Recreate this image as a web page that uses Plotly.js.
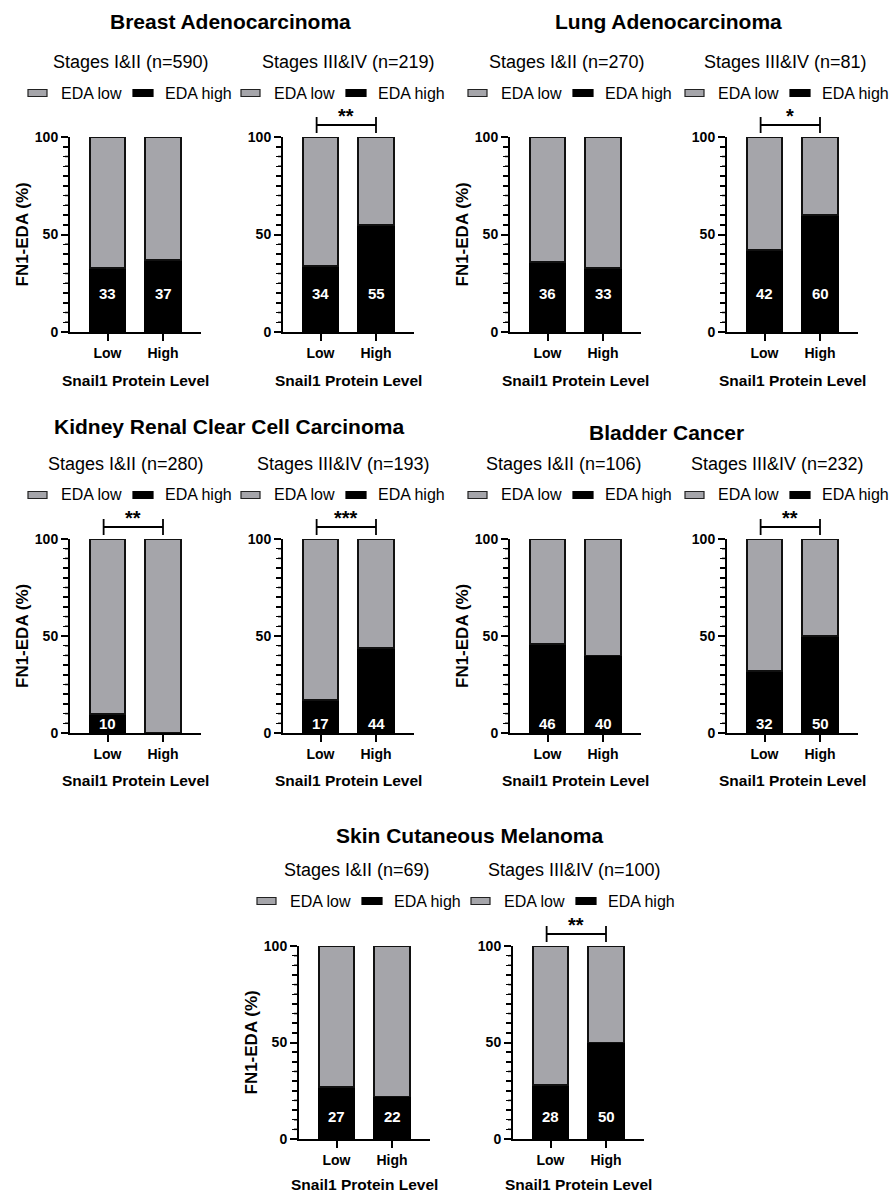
<!DOCTYPE html>
<html>
<head>
<meta charset="utf-8">
<script src="https://cdn.plot.ly/plotly-3.0.1.min.js"></script>
<style>html,body{margin:0;padding:0;background:#fff;}#chart{width:891px;height:1193px;}</style>
</head>
<body>
<div id="chart"></div>
<script>
// ---------------- data ----------------
const categories = ['Low', 'High'];
const seriesNames = ['EDA low', 'EDA high'];
const cancerTitles = ['Breast Adenocarcinoma', 'Lung Adenocarcinoma', 'Kidney Renal Clear Cell Carcinoma', 'Bladder Cancer', 'Skin Cutaneous Melanoma'];
const stageLabels = ['Stages I&II (n=590)', 'Stages III&IV (n=219)',
                     'Stages I&II (n=270)', 'Stages III&IV (n=81)',
                     'Stages I&II (n=280)', 'Stages III&IV (n=193)',
                     'Stages I&II (n=106)', 'Stages III&IV (n=232)',
                     'Stages I&II (n=69)',  'Stages III&IV (n=100)'];
const edaHigh = [[33, 37], [34, 55], [36, 33], [42, 60], [10, 0], [17, 44], [46, 40], [32, 50], [27, 22], [28, 50]];
const edaLow  = [[67, 63], [66, 45], [64, 67], [58, 40], [90, 100], [83, 56], [54, 60], [68, 50], [73, 78], [72, 50]];
const significance = ['', '**', '', '*', '**', '***', '', '**', '', '**'];
const yTickVals = [0, 50, 100];
const yMinorTickVals = [5, 10, 15, 20, 25, 30, 35, 40, 45, 55, 60, 65, 70, 75, 80, 85, 90, 95];
const yAxisTitle = 'FN1-EDA (%)';
const xAxisTitle = 'Snail1 Protein Level';

// ---------------- layout constants (pixels) ----------------
const W = 891, H = 1193;
const px = x => x / W;
const py = y => 1 - y / H;
const axisLeft   = [70, 283, 510, 727, 70, 283, 510, 727, 299, 513];
const axisTop    = [137, 137, 137, 137, 539, 539, 539, 539, 946, 946];
const axisBottom = [332, 332, 332, 332, 733, 733, 733, 733, 1139, 1139];
const axisWidth = 131;
const catStep = 55.5, firstOffset = 37.5;
const xRange = [-firstOffset / catStep, (axisWidth - firstOffset) / catStep];
const yRange = [0, 100];
const barWidth = 0.64;
const labelLevel = [19.5, 19.5, 19.5, 19.5, 5, 5, 5, 5, 11.5, 11.5];
const xTitleShift = [-48, -48, -48, -48, -47, -47, -47, -47, -45, -45];
const titlePos = [[230, 22], [668, 22], [229, 426], [666, 432], [470, 835]];
const subPos = [[131, 62], [348, 62], [567, 62], [785, 62], [126, 464], [343, 464], [564, 464], [777, 464], [357, 870], [574, 870]];
const legendY = [93, 93, 93, 93, 495, 495, 495, 495, 901, 901];

const GRAY = '#a5a5aa';
const FONT = 'Liberation Sans, Arial, sans-serif';

const traces = [];
const layout = {
  width: W, height: H,
  margin: {l: 0, r: 0, t: 0, b: 0},
  paper_bgcolor: '#fff', plot_bgcolor: 'rgba(0,0,0,0)',
  barmode: 'stack',
  showlegend: false,
  font: {family: FONT, color: '#000'},
  annotations: [], shapes: []
};

for (let i = 0; i < 10; i++) {
  const n = i === 0 ? '' : String(i + 1);
  const xa = 'x' + n, ya = 'y' + n;
  traces.push({
    type: 'bar', x: categories, y: edaHigh[i], name: seriesNames[1],
    xaxis: xa, yaxis: ya, width: barWidth, cliponaxis: false,
    marker: {color: '#000', line: {color: '#000', width: 1.5}}, hoverinfo: 'y+name'
  });
  traces.push({
    type: 'bar', x: categories, y: edaLow[i], name: seriesNames[0],
    xaxis: xa, yaxis: ya, width: barWidth, cliponaxis: false,
    marker: {color: GRAY, line: {color: '#111', width: 1.8}}, hoverinfo: 'y+name'
  });

  layout['xaxis' + n] = {
    domain: [px(axisLeft[i]), px(axisLeft[i] + axisWidth)],
    anchor: ya, type: 'category', range: xRange, fixedrange: true,
    showline: true, linecolor: '#000', linewidth: 2,
    ticks: 'outside', ticklen: 7, tickwidth: 2, tickcolor: '#000',
    showgrid: false, zeroline: false,
    tickfont: {family: FONT, size: 14, color: '#000', weight: 'bold'}
  };
  layout['yaxis' + n] = {
    domain: [py(axisBottom[i]), py(axisTop[i])],
    anchor: xa, range: yRange, fixedrange: true,
    tickmode: 'array', tickvals: yTickVals,
    showline: true, linecolor: '#000', linewidth: 2,
    ticks: 'outside', ticklen: 7, tickwidth: 2, tickcolor: '#000',
    minor: {ticks: 'outside', ticklen: 5, tickwidth: 1.5, tickcolor: '#000', dtick: 5},
    showgrid: false, zeroline: false,
    tickfont: {family: FONT, size: 14, color: '#000', weight: 'bold'}
  };

  // minor ticks also as lines, mapped from tick value onto the axis domain
  const L = axisLeft[i];
  const d0 = py(axisBottom[i]), d1 = py(axisTop[i]);
  yMinorTickVals.forEach(v => {
    const yy = d0 + (v - yRange[0]) / (yRange[1] - yRange[0]) * (d1 - d0);
    layout.shapes.push({type: 'line', layer: 'above', xref: 'paper', yref: 'paper',
      x0: px(L - 5), x1: px(L), y0: yy, y1: yy, line: {color: '#000', width: 1.5}});
  });

  // value labels inside black segments
  categories.forEach((c, k) => {
    if (edaHigh[i][k] > 0) {
      layout.annotations.push({
        xref: xa, yref: ya, x: k, y: labelLevel[i], text: String(edaHigh[i][k]),
        showarrow: false, font: {family: FONT, size: 15, color: '#fff', weight: 'bold'}
      });
    }
  });

  // axis titles
  layout.annotations.push({
    xref: xa + ' domain', yref: ya + ' domain', x: 0.5, y: 0, yshift: xTitleShift[i],
    xanchor: 'center', yanchor: 'middle', showarrow: false, text: xAxisTitle, borderpad: 0,
    font: {family: FONT, size: 15.5, color: '#000', weight: 'bold'}
  });
  if (i % 2 === 0) {
    layout.annotations.push({
      xref: xa + ' domain', yref: ya + ' domain', x: 0, y: 0.5, xshift: -48,
      xanchor: 'center', yanchor: 'middle', textangle: -90, showarrow: false, text: yAxisTitle,
      font: {family: FONT, size: 17, color: '#000', weight: 'bold'}
    });
  }

  // stage subtitle
  layout.annotations.push({
    xref: 'paper', yref: 'paper', x: px(subPos[i][0]), y: py(subPos[i][1]),
    xanchor: 'center', yanchor: 'middle', showarrow: false, text: stageLabels[i],
    font: {family: FONT, size: 18, color: '#000'}
  });

  // legend (manual swatches)
  const ly = legendY[i];
  layout.shapes.push({type: 'rect', xref: 'paper', yref: 'paper',
    x0: px(L - 42), x1: px(L - 23), y0: py(ly + 3.5), y1: py(ly - 3.5),
    fillcolor: GRAY, line: {color: '#222', width: 1.2}});
  layout.shapes.push({type: 'rect', xref: 'paper', yref: 'paper',
    x0: px(L + 63), x1: px(L + 83), y0: py(ly + 3.5), y1: py(ly - 3.5),
    fillcolor: '#000', line: {color: '#000', width: 1.2}});
  layout.annotations.push({xref: 'paper', yref: 'paper', x: px(L - 11), y: py(ly),
    xanchor: 'left', yanchor: 'middle', showarrow: false, text: seriesNames[0],
    font: {family: FONT, size: 16, color: '#000'}});
  layout.annotations.push({xref: 'paper', yref: 'paper', x: px(L + 93), y: py(ly),
    xanchor: 'left', yanchor: 'middle', showarrow: false, text: seriesNames[1],
    font: {family: FONT, size: 16, color: '#000'}});

  // significance bracket
  if (significance[i]) {
    const top = axisTop[i];
    const yb = py(top - 12), yt = py(top - 20), yl = py(top - 4);
    const ln = {color: '#000', width: 1.8};
    layout.shapes.push({type: 'line', xref: xa, yref: 'paper', x0: -0.07, x1: 1, y0: yb, y1: yb, line: ln});
    layout.shapes.push({type: 'line', xref: xa, yref: 'paper', x0: -0.07, x1: -0.07, y0: yt, y1: yl, line: ln});
    layout.shapes.push({type: 'line', xref: xa, yref: 'paper', x0: 1, x1: 1, y0: yt, y1: yl, line: ln});
    layout.annotations.push({xref: xa, yref: 'paper', x: 0.465, y: py(top - 21),
      xanchor: 'center', yanchor: 'middle', showarrow: false, text: significance[i],
      font: {family: FONT, size: 20, color: '#000', weight: 'bold'}});
  }
}

// cancer type titles
cancerTitles.forEach((t, j) => {
  layout.annotations.push({xref: 'paper', yref: 'paper', x: px(titlePos[j][0]), y: py(titlePos[j][1]),
    xanchor: 'center', yanchor: 'middle', showarrow: false, text: t,
    font: {family: FONT, size: 21, color: '#000', weight: 'bold'}});
});

Plotly.newPlot('chart', traces, layout, {staticPlot: true, displayModeBar: false});
</script>
</body>
</html>
